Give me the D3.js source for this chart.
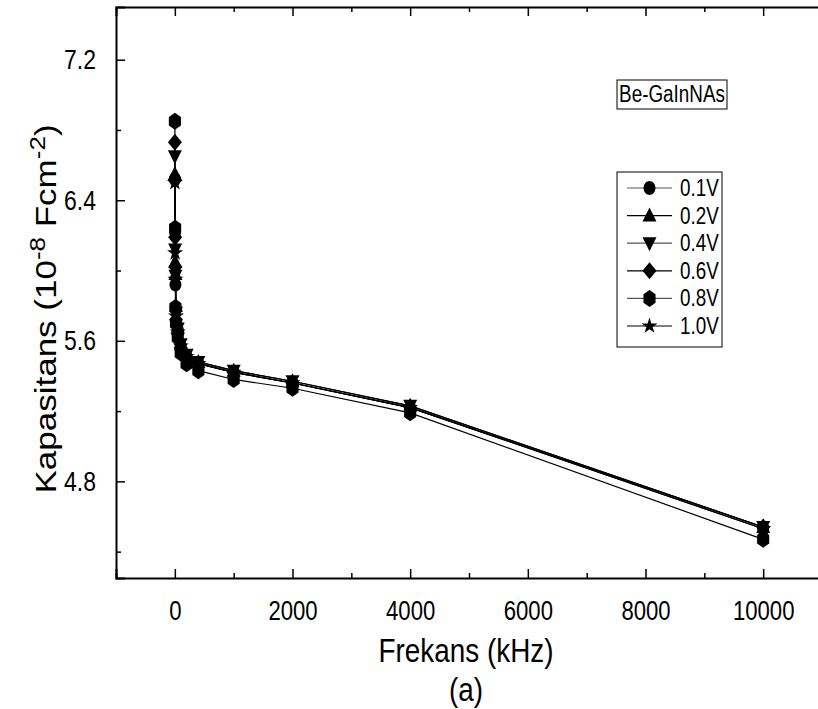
<!DOCTYPE html>
<html>
<head>
<meta charset="utf-8">
<script src="https://cdn.jsdelivr.net/npm/d3@7"></script>
<style>
  body { margin: 0; background: #fff; }
  text { font-family: "Liberation Sans", Arial, sans-serif; fill: #000; }
</style>
</head>
<body>
<div id="chart"></div>
<script>
// frequencies (kHz)
const freqs = [1, 5, 10, 20, 50, 100, 200, 400, 1000, 2000, 4000, 10000];
const seriesNames = ["0.1V", "0.2V", "0.4V", "0.6V", "0.8V", "1.0V"];
const seriesShapes = ["circle", "triangle", "triangleDown", "diamond", "hexagon", "star"];
const v01 = [6.52, 6.22, 5.92, 5.78, 5.66, 5.57, 5.51, 5.47, 5.42, 5.36, 5.22, 4.53];
const v02 = [6.55, 6.05, 5.98, 5.80, 5.68, 5.58, 5.52, 5.48, 5.43, 5.37, 5.23, 4.54];
const v04 = [6.65, 6.12, 5.97, 5.76, 5.67, 5.58, 5.52, 5.48, 5.43, 5.37, 5.23, 4.54];
const v06 = [6.73, 6.19, 6.02, 5.72, 5.64, 5.56, 5.50, 5.47, 5.42, 5.36, 5.22, 4.54];
const v08 = [6.85, 6.24, 5.79, 5.70, 5.62, 5.53, 5.47, 5.43, 5.38, 5.33, 5.19, 4.47];
const v10 = [6.50, 6.10, 5.95, 5.74, 5.65, 5.57, 5.51, 5.47, 5.42, 5.36, 5.22, 4.53];
const seriesValues = [v01, v02, v04, v06, v08, v10];
const xTicks = [0, 2000, 4000, 6000, 8000, 10000];
const yTicks = [4.8, 5.6, 6.4, 7.2];

const W = 818, H = 709;
const margin = { top: 7, right: -4, bottom: 131, left: 116 };
const width = W - margin.left - margin.right;
const height = H - margin.top - margin.bottom;
const squeeze = 0.82; // the original figure is narrowed horizontally

const svg = d3.select("#chart").append("svg")
    .attr("width", W)
    .attr("height", H);

const g = svg.append("g")
    .attr("transform", "translate(" + margin.left + "," + margin.top + ")");

const x = d3.scaleLinear().domain([-1000, 11000]).range([0, width]);
const y = d3.scaleLinear().domain([4.25, 7.5]).range([height, 0]);

// marker paths (slightly taller than wide, like the original)
function markerPath(shape) {
    if (shape === "circle") return "M-6,0A6,7 0 1,0 6,0A6,7 0 1,0 -6,0Z";
    if (shape === "triangle") return "M0,-8L7,6L-7,6Z";
    if (shape === "triangleDown") return "M0,8L7,-6L-7,-6Z";
    if (shape === "diamond") return "M0,-8.5L7,0L0,8.5L-7,0Z";
    if (shape === "hexagon") {
        let pts = d3.range(6).map(i => {
            let a = Math.PI / 3 * i - Math.PI / 2;
            return [7 * Math.cos(a), 8.5 * Math.sin(a)];
        });
        return "M" + pts.join("L") + "Z";
    }
    if (shape === "star") return d3.symbol(d3.symbolStar, 80)();
}

// lines
const line = d3.line().x(d => x(d[0])).y(d => y(d[1]));
seriesValues.forEach((vals, i) => {
    let pts = freqs.map((f, j) => [f, vals[j]]);
    g.append("path")
        .datum(pts)
        .attr("fill", "none")
        .attr("stroke", "#000")
        .attr("stroke-width", 1.2)
        .attr("d", line);
});

// markers
seriesValues.forEach((vals, i) => {
    g.selectAll(".m" + i)
        .data(freqs.map((f, j) => [f, vals[j]]))
        .enter().append("path")
        .attr("class", "m" + i)
        .attr("d", markerPath(seriesShapes[i]))
        .attr("transform", d => "translate(" + x(d[0]) + "," + y(d[1]) + ")")
        .attr("fill", "#000");
});

// axes (ticks inward)
const xMinor = d3.range(-1000, 11001, 1000).filter(v => v % 2000 !== 0);
const yMinor = [4.4, 5.2, 6.0, 6.8];

g.append("g")
    .attr("transform", "translate(0," + height + ")")
    .call(d3.axisBottom(x).tickValues(xTicks).tickSize(-9).tickPadding(23).tickFormat(d3.format("d")))
    .call(a => a.select(".domain").attr("stroke-width", 2))
    .call(a => a.selectAll("text")
        .attr("font-size", 27)
        .attr("font-family", "Liberation Sans, Arial, sans-serif")
        .attr("transform", "scale(" + squeeze + ",1)"));
g.append("g")
    .attr("transform", "translate(0," + height + ")")
    .call(d3.axisBottom(x).tickValues(xMinor).tickSize(-5).tickFormat(""))
    .call(a => a.select(".domain").remove());

g.append("g")
    .call(d3.axisTop(x).tickValues(xTicks).tickSize(-9).tickFormat(""))
    .call(a => a.select(".domain").attr("stroke-width", 2));
g.append("g")
    .call(d3.axisTop(x).tickValues(xMinor).tickSize(-5).tickFormat(""))
    .call(a => a.select(".domain").remove());

g.append("g")
    .call(d3.axisLeft(y).tickValues(yTicks).tickSize(-9).tickFormat(d3.format(".1f")))
    .call(a => a.select(".domain").attr("stroke-width", 2))
    .call(a => a.selectAll("text")
        .attr("font-size", 28)
        .attr("font-family", "Liberation Sans, Arial, sans-serif")
        .attr("x", -20 / squeeze)
        .attr("transform", "scale(" + squeeze + ",1)"));
g.append("g")
    .call(d3.axisLeft(y).tickValues(yMinor).tickSize(-5).tickFormat(""))
    .call(a => a.select(".domain").remove());

g.selectAll(".tick line").attr("stroke-width", 1.5);

// axis titles
svg.append("text")
    .attr("transform", "translate(466,662) scale(" + squeeze + ",1)")
    .attr("text-anchor", "middle")
    .attr("font-size", 34)
    .text("Frekans (kHz)");
svg.append("text")
    .attr("transform", "translate(466,701) scale(" + squeeze + ",1)")
    .attr("text-anchor", "middle")
    .attr("font-size", 34)
    .text("(a)");

const yl = svg.append("text")
    .attr("transform", "translate(56,309) rotate(-90) scale(1," + squeeze + ")")
    .attr("text-anchor", "middle")
    .attr("font-size", 35);
yl.append("tspan").text("Kapasitans (10");
yl.append("tspan").attr("dy", -13).attr("font-size", 26).text("-8");
yl.append("tspan").attr("dy", 13).text(" Fcm");
yl.append("tspan").attr("dy", -13).attr("font-size", 26).text("-2");
yl.append("tspan").attr("dy", 13).text(")");

// sample label box
svg.append("rect")
    .attr("x", 617).attr("y", 80).attr("width", 110).attr("height", 29)
    .attr("fill", "#fff").attr("stroke", "#000").attr("stroke-width", 1);
svg.append("text")
    .attr("transform", "translate(672,102) scale(" + squeeze + ",1)")
    .attr("text-anchor", "middle")
    .attr("font-size", 23)
    .text("Be-GaInNAs");

// legend
const legend = svg.append("g").attr("transform", "translate(617,172)");
legend.append("rect")
    .attr("width", 105).attr("height", 175)
    .attr("fill", "#fff").attr("stroke", "#000").attr("stroke-width", 1);
seriesNames.forEach((name, i) => {
    let ly = 16 + i * 27.6;
    legend.append("line")
        .attr("x1", 10).attr("x2", 55).attr("y1", ly).attr("y2", ly)
        .attr("stroke", i % 2 === 0 ? "#555" : "#000").attr("stroke-width", 1.2);
    legend.append("path")
        .attr("d", markerPath(seriesShapes[i]))
        .attr("transform", "translate(32.5," + ly + ")")
        .attr("fill", "#000");
    legend.append("text")
        .attr("transform", "translate(63," + (ly + 8) + ") scale(" + squeeze + ",1)")
        .attr("font-size", 23)
        .text(name);
});
</script>
</body>
</html>
